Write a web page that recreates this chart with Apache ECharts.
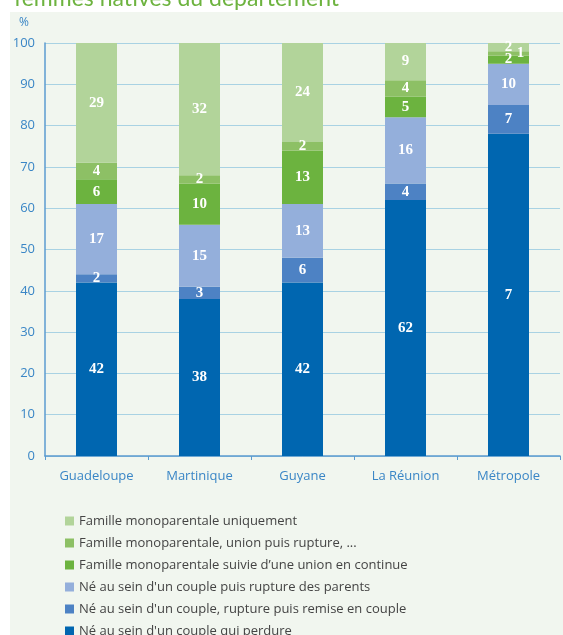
<!DOCTYPE html>
<html>
<head>
<meta charset="utf-8">
<script src="https://cdn.jsdelivr.net/npm/echarts@6/dist/echarts.min.js"></script>
<style>
  html, body { margin: 0; padding: 0; background: #fff; overflow: hidden; }
  #chart { width: 563px; height: 670px; }
</style>
</head>
<body>
<div id="chart"></div>
<script>
const categories = ['Guadeloupe', 'Martinique', 'Guyane', 'La Réunion', 'Métropole']

// stacked from bottom to top
const couplePerdure = [42, 38, 42, 62, 78]
const coupleRemise = [2, 3, 6, 4, 7]
const coupleRupture = [17, 15, 13, 16, 10]
const monoUnionContinue = [6, 10, 13, 5, 2]
const monoUnionRupture = [4, 2, 2, 4, 1]
const monoUniquement = [29, 32, 24, 9, 2]
// label printed on the bottom segment (Métropole shows "7" in the source)
const couplePerdureLabels = ['42', '38', '42', '62', '7']

const yTicks = { min: 0, max: 100, interval: 10 }

const chart = echarts.init(document.getElementById('chart'))

const labelStyle = {
  show: true,
  color: '#fff',
  fontFamily: 'Liberation Serif',
  fontWeight: 'bold',
  fontSize: 15
}

function mkSeries(name, values, color, labels, offsets) {
  return {
    name: name,
    type: 'bar',
    stack: 'total',
    barWidth: 41,
    itemStyle: { color: color },
    label: Object.assign({}, labelStyle, {
      formatter: p => labels ? labels[p.dataIndex] : String(p.value)
    }),
    data: values.map((v, i) => {
      if (offsets && offsets[i]) return { value: v, label: { offset: offsets[i] } }
      return v
    })
  }
}

const series = [
  mkSeries('Né au sein d\'un couple qui perdure', couplePerdure, '#0066b0', couplePerdureLabels),
  mkSeries('Né au sein d\'un couple, rupture puis remise en couple', coupleRemise, '#4d82c4'),
  mkSeries('Né au sein d\'un couple puis rupture des parents', coupleRupture, '#94afdb'),
  mkSeries('Famille monoparentale suivie d\u2019une union en continue', monoUnionContinue, '#6cb33f'),
  mkSeries('Famille monoparentale, union puis rupture, ...', monoUnionRupture, '#8dc065', null, [null, null, null, null, [12, 0]]),
  mkSeries('Famille monoparentale uniquement', monoUniquement, '#b2d49a')
]

const option = {
  animation: false,
  textStyle: { fontFamily: 'Open Sans' },
  title: {
    text: 'femmes natives du département',
    left: 9,
    top: -18,
    textStyle: { color: '#6db33f', fontSize: 23, fontWeight: 'normal', fontFamily: 'Lato' }
  },
  graphic: [{
    type: 'rect',
    z: -10,
    silent: true,
    shape: { x: 10, y: 12, width: 560, height: 680 },
    style: { fill: '#f1f6ef' }
  }],
  grid: { left: 45, right: 3, top: 43, bottom: 214 },
  legend: {
    orient: 'vertical',
    left: 60,
    top: 509,
    itemWidth: 9,
    itemHeight: 9,
    itemGap: 8,
    icon: 'rect',
    textStyle: { color: '#444', fontSize: 13, fontFamily: 'Open Sans', lineHeight: 14 },
    data: series.map(s => s.name).reverse()
  },
  xAxis: {
    type: 'category',
    data: categories,
    axisLine: { lineStyle: { color: '#5b9bd0', width: 1.5 } },
    axisTick: { show: true, alignWithLabel: false, length: 4, lineStyle: { color: '#5b9bd0' } },
    axisLabel: { color: '#3a86c6', fontSize: 13, margin: 14 }
  },
  yAxis: {
    type: 'value',
    min: yTicks.min,
    max: yTicks.max,
    interval: yTicks.interval,
    name: '%',
    nameGap: 14,
    nameTextStyle: { color: '#3a86c6', fontSize: 12, align: 'right', padding: [0, 16, 0, 0] },
    axisLine: { show: true, lineStyle: { color: '#5b9bd0', width: 1.5 } },
    axisTick: { show: false },
    axisLabel: { color: '#3a86c6', fontSize: 13, margin: 10 },
    splitLine: { lineStyle: { color: '#a9d2e3', width: 1 } }
  },
  series: series
}

chart.setOption(option)
</script>
</body>
</html>
